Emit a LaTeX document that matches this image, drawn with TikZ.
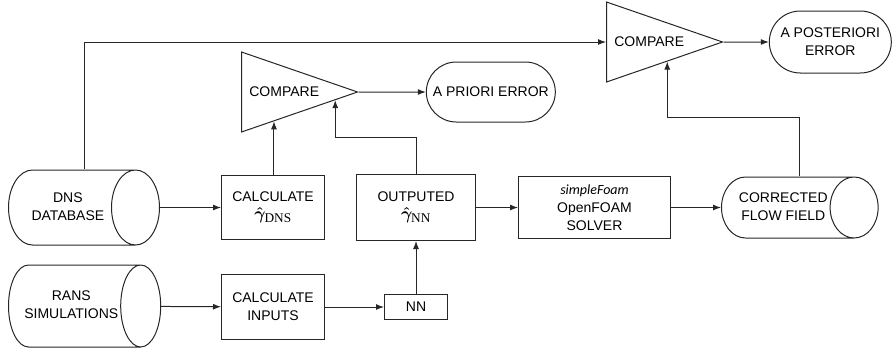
\documentclass[tikz,border=0pt]{standalone}
\usepackage{amsmath}
\usepackage{fontspec}
\setmainfont{Liberation Sans}
\newfontfamily\carlito{Carlito}
\newfontfamily\timesf{Liberation Serif}
\usetikzlibrary{calc, positioning, shapes.geometric, shapes.misc, arrows.meta}

\newcommand{\gammahat}[1]{{\fontsize{19}{19}\selectfont\boldmath$\hat{\gamma}_{\text{\unboldmath\timesf #1}}$}}
\newcommand{\dblabel}[2]{\begin{tabular}{@{}c@{}}#2\end{tabular}\hspace{#1}}

\begin{document}
\begin{tikzpicture}[
  x=1pt, y=-1pt,
  box/.style={rectangle, draw=black!85, line width=1pt, font=\fontsize{14}{18}\selectfont, align=center, inner sep=2pt},
  db/.style={cylinder, shape border rotate=0, aspect=1.2, draw=black!85, line width=1pt, font=\fontsize{14}{18}\selectfont, inner sep=2pt},
  cmp/.style={isosceles triangle, isosceles triangle stretches, shape border rotate=0, draw=black!85, line width=1pt, minimum width=80pt, minimum height=116pt, inner sep=0pt, font=\fontsize{14}{18}\selectfont},
  term/.style={rounded rectangle, draw=black!85, line width=1pt, font=\fontsize{14}{18}\selectfont, align=center, inner sep=2pt},
  arr/.style={-{Latex[length=8pt,width=6pt]}, line width=1pt, draw=black!85}
]
  \useasboundingbox (0,0) rectangle (894,354);

  \node[db, minimum height=151pt, minimum width=75pt, anchor=west] (dns) at (8,207.5) {\dblabel{44pt}{DNS\\DATABASE}};
  \node[db, aspect=1, minimum height=151pt, minimum width=82pt, anchor=west] (rans) at (8,306) {\dblabel{4pt}{RANS\\SIMULATIONS}};

  \node[box, minimum width=103pt, minimum height=64pt, right=61pt of dns] (calcD) {CALCULATE\\\gammahat{DNS}};
  \node[box, minimum width=103pt, minimum height=65pt, below=34pt of calcD] (calcI) {CALCULATE\\INPUTS};
  \node[box, minimum width=63pt, minimum height=25pt, right=59pt of calcI] (nn) {NN};
  \node[box, minimum width=119pt, minimum height=66pt, right=31pt of calcD] (outN) {OUTPUTED\\\gammahat{NN}};
  \node[box, minimum width=152pt, minimum height=62pt, right=42pt of outN] (solver) {{\carlito\itshape simpleFoam}\\OpenFOAM\\SOLVER};
  \node[db, minimum height=152pt, minimum width=61pt, right=50pt of solver] (cff) {\dblabel{24pt}{CORRECTED\\FLOW FIELD}};

  \node[cmp, anchor=lower side] (cmp1) at (241,92) {COMPARE};
  \node[term, minimum width=133pt, minimum height=60pt, right=67pt of cmp1] (prio) {A PRIORI ERROR};
  \node[cmp, anchor=lower side] (cmp2) at (606,42) {COMPARE};
  \node[term, minimum width=126pt, minimum height=62pt, right=45pt of cmp2] (post) {A POSTERIORI\\ERROR};

  % points on the lower edges of the comparators
  \coordinate (k0) at ($(cmp1.apex)!0.72!(cmp1.right corner)$);
  \coordinate (k1) at ($(cmp1.apex)!0.2!(cmp1.right corner)$);
  \coordinate (k2) at ($(cmp2.apex)!0.48!(cmp2.right corner)$);

  \draw[arr] (dns) -- (calcD);
  \draw[arr] (rans) -- (calcI);
  \draw[arr] (calcI) -- (nn);
  \draw[arr] (nn) -- (outN);
  \draw[arr] (outN) -- (solver);
  \draw[arr] (solver) -- (cff);
  \draw[arr] (cmp1.apex) -- (prio);
  \draw[arr] (cmp2.apex) -- (post);
  \draw[arr] (dns.shape center |- dns.north) |- (cmp2.lower side);
  \draw[arr] (calcD.north -| k0) -- (k0);
  \draw[arr] (outN.north) -- ++(0,-37) -| (k1);
  \draw[arr] (cff.shape center |- cff.north) -- ++(0,-59) -| (k2);
\end{tikzpicture}
\end{document}
